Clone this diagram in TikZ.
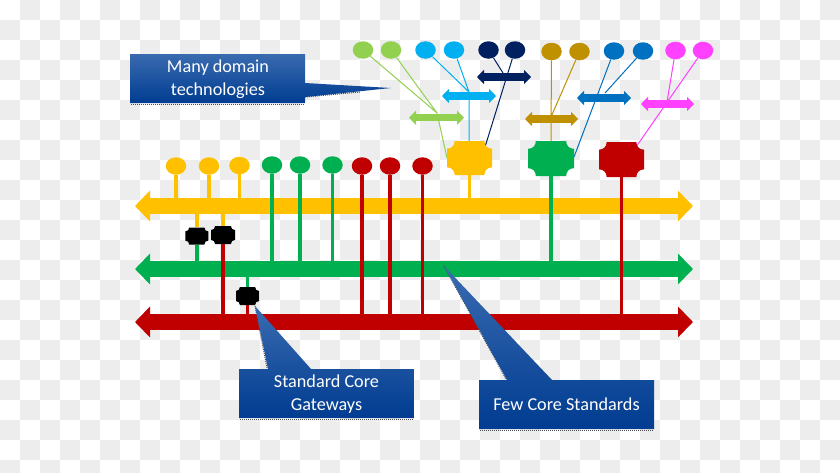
\documentclass[tikz,border=0pt]{standalone}
\usepackage{fontspec}
\setmainfont{Carlito}
\usetikzlibrary{arrows.meta,shapes.geometric,calc}
\definecolor{cgold}{HTML}{FFC000}
\definecolor{cgreen}{HTML}{00B050}
\definecolor{cred}{HTML}{C00000}
\definecolor{clime}{HTML}{92D050}
\definecolor{csky}{HTML}{00B0F0}
\definecolor{cnavy}{HTML}{002060}
\definecolor{cochre}{HTML}{BF9000}
\definecolor{cblue}{HTML}{0070C0}
\definecolor{cpink}{HTML}{FF40FF}
\definecolor{checker}{HTML}{EDEDED}
\definecolor{calltop}{HTML}{3A6BB0}
\definecolor{callbot}{HTML}{003C91}
\tikzset{
  ball/.style={ellipse,draw=none,fill=#1,inner sep=0pt,minimum width=20.5pt,minimum height=17.5pt},
  bus/.style={draw=#1,line width=16pt,{Triangle[width=30pt,length=15pt]}-{Triangle[width=30pt,length=15pt]}},
  dbl/.style={draw=#1,line width=7.5pt,{Triangle[width=14pt,length=7pt]}-{Triangle[width=14pt,length=7pt]}},
  stem/.style={draw=#1,line width=3.6pt},
  thin link/.style={draw=#1,line width=1pt},
  calltext/.style={text=white,font=\fontsize{18.2}{23}\selectfont,align=center,inner sep=0pt},
  callshape/.style={top color=calltop,bottom color=callbot,draw=none},
  speckle/.style={draw=black!70,line width=1pt,dash pattern=on 1pt off 1pt}
}
\newcommand{\plaque}[6]{%
  \node[inner sep=0pt,minimum width=#4pt,minimum height=#5pt] (#1) at (#2,#3) {};
  \pgfmathsetmacro{\pl}{#2-#4/2}\pgfmathsetmacro{\pr}{#2+#4/2}
  \pgfmathsetmacro{\pt}{#3-#5/2}\pgfmathsetmacro{\pb}{#3+#5/2}
  \pgfmathsetmacro{\pc}{#4*0.17}\pgfmathsetmacro{\pk}{#4*0.17*0.6}
  \fill[#6] (\pl,\pt+\pc)
    .. controls (\pl+\pk,\pt+\pc) and (\pl+\pc,\pt+\pk) .. (\pl+\pc,\pt)
    -- (\pr-\pc,\pt)
    .. controls (\pr-\pc,\pt+\pk) and (\pr-\pk,\pt+\pc) .. (\pr,\pt+\pc)
    -- (\pr,\pb-\pc)
    .. controls (\pr-\pk,\pb-\pc) and (\pr-\pc,\pb-\pk) .. (\pr-\pc,\pb)
    -- (\pl+\pc,\pb)
    .. controls (\pl+\pc,\pb-\pk) and (\pl+\pk,\pb-\pc) .. (\pl,\pb-\pc)
    -- cycle;
}
\begin{document}
\begin{tikzpicture}[x=1pt,y=-1pt]
\useasboundingbox (0,0) rectangle (840,472);
\begin{scope}
  \clip (0,0) rectangle (840,472);
  \fill[white] (0,0) rectangle (840,472);
  \foreach \i in {0,...,41}{\foreach \j in {0,...,23}{
    \pgfmathtruncatemacro{\odd}{mod(\i+\j,2)}
    \ifnum\odd=1 \fill[checker] (\i*20,\j*20) rectangle (\i*20+20,\j*20+20);\fi
  }}
\end{scope}

% bus end points
\coordinate (goldL) at (135,206);  \coordinate (goldR) at (693,206);
\coordinate (greenL) at (135,269); \coordinate (greenR) at (693,269);
\coordinate (redL) at (135,322);   \coordinate (redR) at (693,322);
\draw[bus=cgold] (goldL) -- (goldR);
\draw[bus=cgreen] (greenL) -- (greenR);
\draw[bus=cred] (redL) -- (redR);
\coordinate (goldT) at (0,198);  \coordinate (goldB) at (0,213);
\coordinate (greenT) at (0,261); \coordinate (greenB) at (0,277);
\coordinate (redT) at (0,314);

\coordinate (jLime) at (437,113);
\coordinate (jSky) at (469,92);

% balls, lower row
\node[ball=cgold] (g1) at (176,166) {};
\node[ball=cgold] (g2) at (209,166) {};
\node[ball=cgold] (g3) at (239.5,165.5) {};
\node[ball=cgreen] (n1) at (272,165) {};
\node[ball=cgreen] (n2) at (300,165) {};
\node[ball=cgreen] (n3) at (332.5,165) {};
\node[ball=cred] (r1) at (362,166) {};
\node[ball=cred] (r2) at (390,166) {};
\node[ball=cred] (r3) at (422.5,166) {};

% balls, upper row
\node[ball=clime] (t1) at (363,50) {};
\node[ball=clime] (t2) at (391,50) {};
\node[ball=csky] (t3) at (425.5,50) {};
\node[ball=csky] (t4) at (454,50) {};
\node[ball=cnavy] (t5) at (488.5,50) {};
\node[ball=cnavy] (t6) at (515,50) {};
\node[ball=cochre] (t7) at (551.5,51.5) {};
\node[ball=cochre] (t8) at (579.5,51.5) {};
\node[ball=cblue] (t9) at (614,51) {};
\node[ball=cblue] (t10) at (643,51) {};
\node[ball=cpink] (t11) at (675.5,50.5) {};
\node[ball=cpink] (t12) at (703,50.5) {};

% thin links
\coordinate (hubGoldL) at (447,158);
\coordinate (hubGoldT) at (469,142);
\coordinate (hubGoldR) at (485,147);
\coordinate (hubGreenT) at (551,142);
\coordinate (hubGreenR) at (574,157);
\coordinate (hubRedR) at (636,147);
\draw[thin link=clime] (t1) -- (jLime) (t2) -- (jLime) -- (hubGoldL);
\draw[thin link=csky] (t3) -- (jSky) (t4) -- (jSky) -- (hubGoldT);
\coordinate (jNavy) at (503,73);
\draw[thin link=cnavy] (t5) -- (jNavy) (t6) -- (hubGoldR);
\coordinate (jOchre) at (551,117);
\draw[thin link=cochre] (t7) -- (hubGreenT) (t8) -- (jOchre);
\coordinate (jBlue) at (605,93);
\draw[thin link=cblue] (t9) -- (hubGreenR) (t10) -- (jBlue);
\coordinate (jPink) at (667,102);
\draw[thin link=cpink] (t11) -- (jPink) (t12) -- (hubRedR);

% domain double arrows
\coordinate (a1L) at (409,117.7); \coordinate (a1R) at (464,117.7);
\coordinate (a2L) at (442,96);    \coordinate (a2R) at (496,96);
\coordinate (a3L) at (477,77);    \coordinate (a3R) at (531,77);
\coordinate (a4L) at (525,119);   \coordinate (a4R) at (578,119);
\coordinate (a5L) at (577,98);    \coordinate (a5R) at (631,98);
\coordinate (a6L) at (641,104);   \coordinate (a6R) at (694,104);
\draw[dbl=clime] (a1L) -- (a1R);
\draw[dbl=csky] (a2L) -- (a2R);
\draw[dbl=cnavy] (a3L) -- (a3R);
\draw[dbl=cochre] (a4L) -- (a4R);
\draw[dbl=cblue] (a5L) -- (a5R);
\draw[dbl=cpink] (a6L) -- (a6R);

% hubs and gateways
\plaque{hubA}{469.5}{158}{45}{34}{cgold}
\plaque{hubB}{551}{158.5}{46}{35}{cgreen}
\plaque{hubC}{621.5}{159.5}{45}{35}{cred}
\plaque{gwA}{196.8}{236}{23}{17}{black}
\plaque{gwB}{223}{235}{24}{18}{black}
\plaque{gwC}{247.5}{296}{23}{18}{black}

% stems
\draw[stem=cgold] (g1) -- (g1 |- goldT);
\draw[stem=cgold] (g2) -- (g2 |- goldT);
\draw[stem=cgold] (g3) -- (g3 |- goldT);
\draw[stem=cgreen] (n1) -- (n1 |- greenT);
\draw[stem=cgreen] (n2) -- (n2 |- greenT);
\draw[stem=cgreen] (n3) -- (n3 |- greenT);
\draw[stem=cred] (r1) -- (r1 |- redT);
\draw[stem=cred] (r2) -- (r2 |- redT);
\draw[stem=cred] (r3) -- (r3 |- redT);
\draw[stem=cgold] (hubA.south) -- (hubA |- goldT);
\draw[stem=cgreen] (hubB.south) -- (hubB |- greenT);
\draw[stem=cred] (hubC.south) -- (hubC |- redT);
\draw[stem=cgold] (gwA |- goldB) -- (gwA.north);
\draw[stem=cgreen] (gwA.south) -- (gwA |- greenT);
\draw[stem=cgold] (gwB |- goldB) -- (gwB.north);
\draw[stem=cred] (gwB.south) -- (gwB |- redT);
\draw[stem=cgreen] (gwC |- greenB) -- (gwC.north);
\draw[stem=cred] (gwC.south) -- (gwC |- redT);

% callouts
\draw[speckle] (131,104) -- (304,104);
\draw[speckle] (305,97) -- (360,92);
\shade[callshape] (130,54) -- (305,54) -- (305,83) -- (391,88) -- (305,97) -- (305,103) -- (130,103) -- cycle;
\node[calltext] (many) at (218,79) {Many domain\\technologies};

\draw[speckle] (240,419) -- (413,419);
\draw[speckle] (255,306) -- (267,368);
\shade[callshape] (239,369) -- (268,369) -- (255,306) -- (311,369) -- (414,369) -- (414,418) -- (239,418) -- cycle;
\node[calltext] (gate) at (326.5,394) {Standard Core\\Gateways};

\draw[speckle] (480,430) -- (653,430);
\draw[speckle] (444,266) -- (506,379);
\shade[callshape] (479,380) -- (507,380) -- (444,266) -- (552,380) -- (654,380) -- (654,429) -- (479,429) -- cycle;
\node[calltext] (few) at (566.5,404.5) {Few Core Standards};
\end{tikzpicture}
\end{document}
